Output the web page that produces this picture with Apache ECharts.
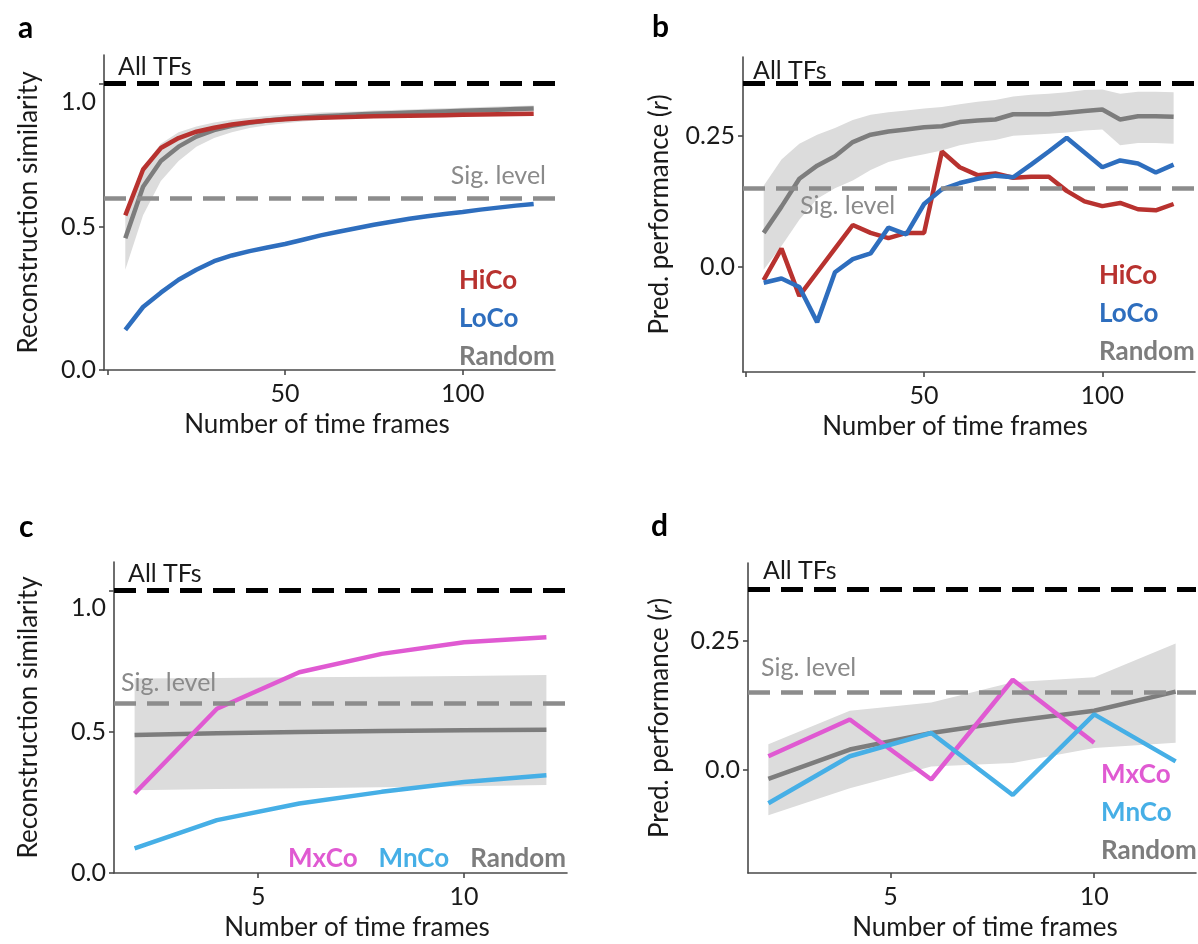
<!DOCTYPE html>
<html lang="en">
<head>
    <meta charset="UTF-8">
    <title>Time frames</title>
    <script src="https://cdn.jsdelivr.net/npm/echarts@6/dist/echarts.min.js"></script>
    <style>
        body{margin:0;background:#fff;}
        #main{width:1198px;height:944px;}
    </style>
</head>
<body>
<div id="main"></div>
<script>
    // x values (number of time frames)
    var framesAB=[5,10,15,20,25,30,35,40,45,50,55,60,65,70,75,80,85,90,95,100,105,110,115,120];
    var framesCD=[2,4,6,8,10,12];

    // panel a: reconstruction similarity
    var hicoRecon=[0.54,0.70,0.775,0.81,0.832,0.846,0.857,0.865,0.871,0.876,0.879,0.881,0.883,0.884,0.886,0.887,0.888,0.889,0.890,0.891,0.892,0.893,0.894,0.895];
    var locoRecon=[0.14,0.22,0.27,0.315,0.35,0.38,0.40,0.415,0.428,0.44,0.455,0.47,0.483,0.495,0.507,0.518,0.528,0.537,0.545,0.552,0.56,0.567,0.574,0.58];
    var randRecon=[0.46,0.64,0.73,0.78,0.815,0.838,0.853,0.863,0.871,0.877,0.882,0.886,0.889,0.892,0.895,0.897,0.899,0.901,0.903,0.905,0.907,0.909,0.911,0.913];
    var randReconLo=[0.35,0.54,0.66,0.73,0.78,0.81,0.83,0.845,0.855,0.862,0.868,0.873,0.877,0.881,0.884,0.887,0.889,0.891,0.893,0.895,0.897,0.899,0.901,0.903];
    var randReconHi=[0.54,0.71,0.79,0.83,0.85,0.864,0.874,0.881,0.887,0.892,0.896,0.899,0.901,0.903,0.906,0.908,0.910,0.912,0.914,0.916,0.918,0.920,0.922,0.924];

    // panel b: prediction performance
    var hicoPred=[-0.025,0.035,-0.055,-0.01,0.035,0.08,0.065,0.055,0.065,0.065,0.22,0.19,0.175,0.178,0.17,0.172,0.172,0.145,0.125,0.116,0.122,0.11,0.108,0.12];
    var locoPred=[-0.03,-0.022,-0.038,-0.105,-0.01,0.015,0.026,0.075,0.062,0.12,0.148,0.16,0.168,0.174,0.171,0.195,0.22,0.246,0.218,0.19,0.203,0.197,0.18,0.195];
    var randPred=[0.065,0.115,0.168,0.193,0.211,0.238,0.252,0.258,0.262,0.266,0.268,0.276,0.279,0.281,0.291,0.291,0.291,0.294,0.297,0.300,0.281,0.287,0.287,0.286];
    var randPredLo=[-0.005,0.04,0.09,0.13,0.15,0.165,0.185,0.2,0.208,0.215,0.222,0.232,0.238,0.242,0.25,0.252,0.254,0.256,0.26,0.262,0.232,0.236,0.236,0.235];
    var randPredHi=[0.155,0.205,0.235,0.252,0.265,0.28,0.29,0.295,0.298,0.302,0.305,0.31,0.315,0.318,0.325,0.328,0.33,0.333,0.337,0.338,0.33,0.334,0.334,0.333];

    // panel c: reconstruction similarity
    var mxcoRecon=[0.281,0.581,0.71,0.775,0.816,0.834];
    var mncoRecon=[0.087,0.187,0.246,0.287,0.322,0.346];
    var randReconCD=[0.488,0.494,0.499,0.502,0.505,0.507];
    var randReconCDLo=[0.293,0.297,0.30,0.303,0.307,0.311];
    var randReconCDHi=[0.688,0.69,0.692,0.694,0.697,0.70];

    // panel d: prediction performance
    var mxcoPred=[0.026,0.097,-0.019,0.174,0.052];
    var mncoPred=[-0.065,0.026,0.071,-0.049,0.107,0.016];
    var randPredCD=[-0.018,0.039,0.071,0.094,0.114,0.151];
    var randPredCDLo=[-0.088,-0.036,0.006,0.013,0.042,0.052];
    var randPredCDHi=[0.049,0.114,0.13,0.169,0.179,0.244];

    // reference levels
    var allTFsRecon=1.0, sigRecon=0.6;
    var allTFsPred=0.346, sigPred=0.15;

    // ticks
    var xTicksAB=[0,50,100], xLabelsAB=[50,100];
    var xTicksCD=[5,10];
    var yTicksRecon=[0,0.5,1.0];
    var yTicksPred=[0,0.25];

    var FONT='Lato';
    var TXT='#1a1a1a';
    var AXIS='#4a4a4a';
    var C={hico:'#b8322f',loco:'#2e6ebe',rand:'#7d7d7d',mxco:'#e05ad2',mnco:'#46afe6',band:'#dcdcdc',sig:'#8c8c8c'};

    function pair(xs,ys){
        return ys.map(function(y,i){return [xs[i],y];});
    }

    function xAxisCfg(g,min,max,ticks,labels,pad){
        return {
            type:'value',gridIndex:g,min:min,max:max,
            name:'Number of time frames',nameLocation:'middle',nameGap:42,
            nameTextStyle:{fontFamily:FONT,fontSize:26,color:TXT,padding:pad},
            axisLine:{onZero:false,lineStyle:{color:AXIS,width:1.6}},
            axisTick:{customValues:ticks,length:5,lineStyle:{color:AXIS,width:1.6}},
            axisLabel:{customValues:labels,margin:11,fontFamily:FONT,fontSize:25,color:TXT},
            splitLine:{show:false}
        };
    }
    function yAxisCfg(g,min,max,ticks,name,gap,fmt){
        return {
            type:'value',gridIndex:g,min:min,max:max,
            name:name,nameLocation:'middle',nameGap:gap,
            nameTextStyle:{fontFamily:FONT,fontSize:26,color:TXT,
                rich:{i:{fontFamily:FONT,fontSize:26,fontStyle:'italic',color:TXT}}},
            axisLine:{show:true,onZero:false,lineStyle:{color:AXIS,width:1.6}},
            axisTick:{show:true,customValues:ticks,length:5,lineStyle:{color:AXIS,width:1.6}},
            axisLabel:{customValues:ticks,margin:8,fontFamily:FONT,fontSize:25,color:TXT,formatter:fmt,
                rich:{low:{padding:[36,0,0,0],fontFamily:FONT,fontSize:25,color:TXT}}},
            splitLine:{show:false}
        };
    }
    function reconFmt(v){
        if(v===1) return '{low|1.0}';
        return v.toFixed(1);
    }
    function predFmt(v){
        return v===0?'0.0':String(v);
    }

    function refLines(allTFs,sig,allDist,sigPos,sigDist){
        return {
            silent:true,symbol:['none','none'],animation:false,
            data:[
                {yAxis:allTFs,lineStyle:{color:'#000',width:5,type:[22,11]},
                    label:{show:true,formatter:'All TFs',position:'insideStartTop',distance:allDist,
                        fontFamily:FONT,fontSize:25,color:TXT}},
                {yAxis:sig,lineStyle:{color:C.sig,width:4.5,type:[22,11]},
                    label:{show:true,formatter:'Sig. level',position:sigPos,distance:sigDist,
                        fontFamily:FONT,fontSize:25,color:'#8a8a8a'}}
            ]
        };
    }
    // shaded spread around the random baseline, drawn as one polygon through the axes
    function band(g,xs,lo,hi){
        var data=xs.map(function(x,i){return [x,lo[i],hi[i]];});
        return {
            type:'custom',xAxisIndex:g,yAxisIndex:g,silent:true,data:data,
            encode:{x:0,y:[1,2]},
            renderItem:function(params,api){
                if(params.dataIndex!==0) return;
                var top=[],bot=[];
                for(var i=0;i<data.length;i++){
                    top.push(api.coord([data[i][0],data[i][2]]));
                    bot.unshift(api.coord([data[i][0],data[i][1]]));
                }
                return {type:'polygon',shape:{points:top.concat(bot)},style:{fill:C.band}};
            }
        };
    }
    function line(g,name,xs,ys,color,extra){
        var s={type:'line',name:name,xAxisIndex:g,yAxisIndex:g,data:pair(xs,ys),
            symbol:'none',lineStyle:{color:color,width:4.5},itemStyle:{color:color}};
        if(extra) s.markLine=extra;
        return s;
    }
    function legend(left,top,orient,gap,items){
        return {
            left:left,top:top,orient:orient,itemGap:gap,itemWidth:0,itemHeight:30,icon:'none',
            selectedMode:false,
            textStyle:{fontFamily:FONT,fontSize:26,fontWeight:'bold',lineHeight:30},
            data:items.map(function(it){return {name:it[0],textStyle:{color:it[1]}};})
        };
    }
    function panelTitle(t,left,top){
        return {text:t,left:left,top:top,textStyle:{fontFamily:FONT,fontSize:30,fontWeight:'bold',color:'#000'}};
    }

    var series=[
        band(0,framesAB,randReconLo,randReconHi),
        line(0,'Random',framesAB,randRecon,C.rand,refLines(allTFsRecon,sigRecon,[14,4],'insideEndTop',[9,10])),
        line(0,'LoCo',framesAB,locoRecon,C.loco),
        line(0,'HiCo',framesAB,hicoRecon,C.hico),

        band(1,framesAB,randPredLo,randPredHi),
        line(1,'Random',framesAB,randPred,C.rand,refLines(allTFsPred,sigPred,[10,0],'insideStartBottom',[57,5])),
        line(1,'HiCo',framesAB,hicoPred,C.hico),
        line(1,'LoCo',framesAB,locoPred,C.loco),

        band(2,framesCD,randReconCDLo,randReconCDHi),
        line(2,'Random',framesCD,randReconCD,C.rand,refLines(allTFsRecon,sigRecon,[14,4],'insideStartTop',[7,8])),
        line(2,'MnCo',framesCD,mncoRecon,C.mnco),
        line(2,'MxCo',framesCD,mxcoRecon,C.mxco),

        band(3,framesCD,randPredCDLo,randPredCDHi),
        line(3,'Random',framesCD,randPredCD,C.rand,refLines(allTFsPred,sigPred,[15,5],'insideStartTop',[13,12])),
        line(3,'MxCo',framesCD.slice(0,mxcoPred.length),mxcoPred,C.mxco),
        line(3,'MnCo',framesCD,mncoPred,C.mnco)
    ];

    var option={
        animation:false,
        backgroundColor:'#fff',
        title:[
            panelTitle('a',13,8),
            panelTitle('b',647,7),
            panelTitle('c',14,507),
            panelTitle('d',646,506)
        ],
        legend:[
            legend(449,261,'vertical',8,[['HiCo',C.hico],['LoCo',C.loco],['Random',C.rand]]),
            legend(1089,256,'vertical',8,[['HiCo',C.hico],['LoCo',C.loco],['Random',C.rand]]),
            legend(278,839,'horizontal',16,[['MxCo',C.mxco],['MnCo',C.mnco],['Random',C.rand]]),
            legend(1091,755,'vertical',8,[['MxCo',C.mxco],['MnCo',C.mnco],['Random',C.rand]])
        ],
        grid:[
            {left:104,right:643,top:55,bottom:574},
            {left:743,right:3,top:57,bottom:572},
            {left:114,right:631,top:562,bottom:71},
            {left:748,right:2,top:563,bottom:71}
        ],
        xAxis:[
            xAxisCfg(0,-1,126,xTicksAB,xLabelsAB,[0,25,0,0]),
            xAxisCfg(1,-0.8,126,xTicksAB,xLabelsAB,[0,28,0,0]),
            xAxisCfg(2,1.5,12.5,xTicksCD,xTicksCD,[0,0,0,33]),
            xAxisCfg(3,1.5,12.5,xTicksCD,xTicksCD,[0,0,0,26])
        ],
        yAxis:[
            yAxisCfg(0,0,1.1,yTicksRecon,'Reconstruction similarity',62,reconFmt),
            yAxisCfg(1,-0.2,0.4,yTicksPred,'Pred. performance ({i|r})',70,predFmt),
            yAxisCfg(2,0,1.1,yTicksRecon,'Reconstruction similarity',72,reconFmt),
            yAxisCfg(3,-0.2,0.4,yTicksPred,'Pred. performance ({i|r})',75,predFmt)
        ],
        series:series
    };

    var chart=echarts.init(document.getElementById('main'));
    chart.setOption(option);
</script>
</body>
</html>
